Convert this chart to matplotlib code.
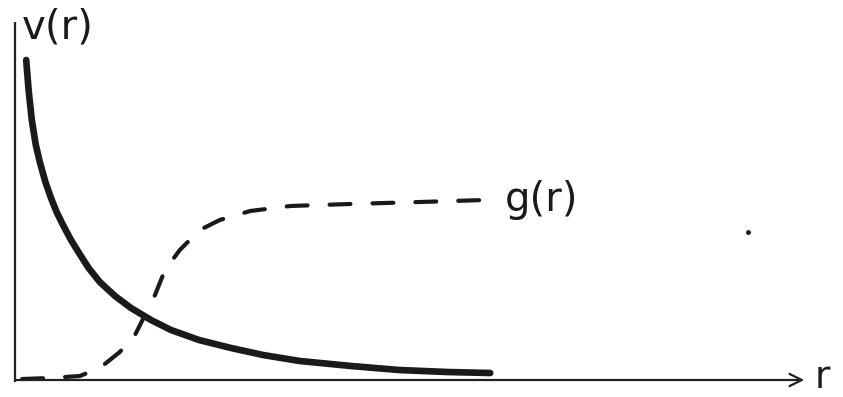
import matplotlib.pyplot as plt

# hand sketch: v(r) potential (solid) and g(r) pair distribution (dashed)
r_v = [0.14, 0.17, 0.21, 0.26, 0.31, 0.38, 0.45, 0.52, 0.6, 0.7, 0.8, 0.92, 1.06, 1.25, 1.45,
       1.7, 1.95, 2.3, 2.7, 3.1, 3.56, 4.2, 4.8, 5.4, 5.94]
v = [3.20, 2.90, 2.60, 2.35, 2.18, 1.98, 1.82, 1.68, 1.55, 1.40, 1.27, 1.12, 0.98, 0.84, 0.72,
     0.60, 0.50, 0.40, 0.32, 0.25, 0.19, 0.14, 0.10, 0.08, 0.07]

r_g = [0.09, 0.44, 0.81, 1.06, 1.31, 1.5, 1.625, 1.75, 1.875, 2.06, 2.31, 2.56, 2.94, 3.44, 4.19, 5.06, 5.875]
g = [0.01, 0.02, 0.04, 0.12, 0.28, 0.45, 0.65, 0.85, 1.10, 1.30, 1.50, 1.60, 1.69, 1.74, 1.76, 1.78, 1.80]

fig = plt.figure(figsize=(8.43, 3.97), dpi=100)
ax = fig.add_axes([0, 0, 1, 1])
ax.set_xlim(-0.1875, 10.35)
ax.set_ylim(-0.17, 3.8)
ax.axis('off')

# axes drawn by hand
ax.plot([0, 0], [-0.02, 3.58], color='#222222', lw=1.6, solid_capstyle='butt')
ax.annotate('', xy=(9.9, 0), xytext=(-0.03, 0),
            arrowprops=dict(arrowstyle='->', color='#222222', lw=1.6, mutation_scale=22))

ax.plot(r_v, v, color='#1a1a1a', lw=4.8, solid_capstyle='round', solid_joinstyle='round')
ax.plot(r_g, g, color='#1a1a1a', lw=3, linestyle=(0, (5, 5.3)), dash_capstyle='round')

ax.text(0.08, 3.52, 'v(r)', fontsize=29, color='#1a1a1a', va='center', ha='left')
ax.text(6.12, 1.80, 'g(r)', fontsize=29, color='#1a1a1a', va='center', ha='left')
ax.text(10.0, 0.02, 'r', fontsize=27, color='#1a1a1a', va='center', ha='left')
ax.plot([9.16], [1.48], 'o', color='#1a1a1a', ms=2.5)

fig.savefig('out.png', dpi=100)
